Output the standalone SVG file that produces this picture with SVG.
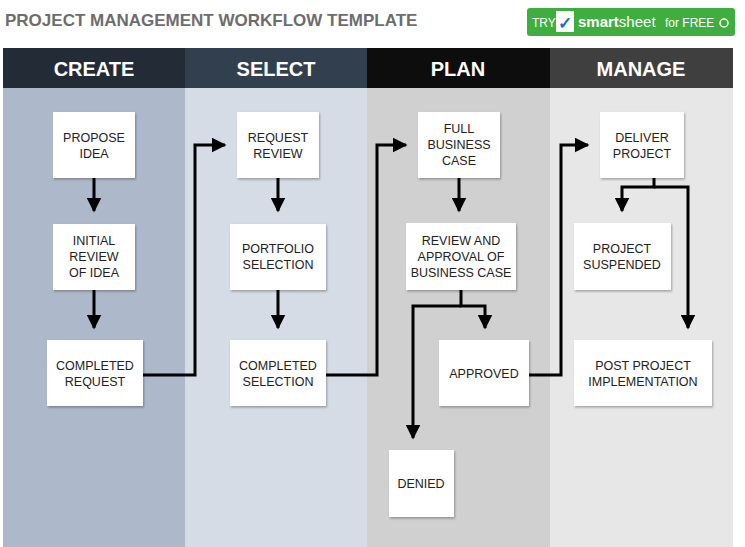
<svg xmlns="http://www.w3.org/2000/svg" width="745" height="547" viewBox="0 0 745 547">
<defs>
<marker id="ah" viewBox="0 0 10 10" refX="9" refY="5" markerWidth="5" markerHeight="5" orient="auto" markerUnits="strokeWidth"><path d="M0,0 L10,5 L0,10 z" fill="#000"/></marker>
<filter id="sh" x="-10%" y="-10%" width="130%" height="130%"><feDropShadow dx="1" dy="1.5" stdDeviation="1" flood-color="#000" flood-opacity="0.3"/></filter>
</defs>
<style>
.hd{font-family:"Liberation Sans",Arial,sans-serif;font-weight:bold;font-size:20px;fill:#fff;text-anchor:middle}
.bx{fill:#fff;filter:url(#sh)}
.t{font-family:"Liberation Sans",Arial,sans-serif;font-size:12.5px;fill:#222;text-anchor:middle}
.c{fill:none;stroke:#000;stroke-width:3}
</style>
<rect width="745" height="547" fill="#fff"/>
<text x="5" y="26" font-family="Liberation Sans,Arial,sans-serif" font-weight="bold" font-size="17" fill="#6d6d6d">PROJECT MANAGEMENT WORKFLOW TEMPLATE</text>
<g id="button">
<rect x="527" y="8" width="208" height="28" rx="3" fill="#3eae3e"/>
<text x="532" y="27" font-family="Liberation Sans,Arial,sans-serif" font-size="12" fill="#fff">TRY</text>
<rect x="556" y="11" width="18" height="21" fill="#fff"/>
<text x="558" y="29" font-family="Liberation Sans,Arial,sans-serif" font-size="17" font-weight="bold" fill="#1e6fc7">✓</text>
<text x="578" y="27" font-family="Liberation Sans,Arial,sans-serif" font-size="15" fill="#fff"><tspan font-weight="bold">smart</tspan>sheet</text>
<text x="665" y="27" font-family="Liberation Sans,Arial,sans-serif" font-size="12" fill="#fff">for FREE</text>
<circle cx="724" cy="23" r="4" fill="none" stroke="#fff" stroke-width="1.5"/>
</g>
<g id="lanes">
<rect x="3" y="48" width="182" height="40" fill="#222b36"/>
<rect x="185" y="48" width="182" height="40" fill="#323f4f"/>
<rect x="367" y="48" width="183" height="40" fill="#0d0d0d"/>
<rect x="550" y="48" width="183" height="40" fill="#3f3f3f"/>
<rect x="3" y="88" width="182" height="459" fill="#adb9ca"/>
<rect x="185" y="88" width="182" height="459" fill="#d6dce5"/>
<rect x="367" y="88" width="183" height="459" fill="#d0d0d0"/>
<rect x="550" y="88" width="183" height="459" fill="#e7e7e7"/>
<text class="hd" x="94" y="76">CREATE</text>
<text class="hd" x="276" y="76">SELECT</text>
<text class="hd" x="458" y="76">PLAN</text>
<text class="hd" x="641" y="76">MANAGE</text>
</g>
<g id="connectors">
<path class="c" d="M94,178 V211" marker-end="url(#ah)"/>
<path class="c" d="M94,290 V328" marker-end="url(#ah)"/>
<path class="c" d="M278,178 V211" marker-end="url(#ah)"/>
<path class="c" d="M278,290 V328" marker-end="url(#ah)"/>
<path class="c" d="M459,178 V211" marker-end="url(#ah)"/>
<path class="c" d="M143,375 H195 V145 H225" marker-end="url(#ah)"/>
<path class="c" d="M326,375 H377 V145 H406" marker-end="url(#ah)"/>
<path class="c" d="M529,375 H561 V145 H588" marker-end="url(#ah)"/>
<path class="c" d="M461,290 V306 H485 V328" marker-end="url(#ah)"/>
<path class="c" d="M461,306 H413 V438" marker-end="url(#ah)"/>
<path class="c" d="M654,178 V187 H622 V211" marker-end="url(#ah)"/>
<path class="c" d="M654,187 H688 V328" marker-end="url(#ah)"/>
</g>
<g id="n1"><rect class="bx" x="53" y="112" width="82" height="66"/><text class="t" x="94" y="142">PROPOSE</text><text class="t" x="94" y="158">IDEA</text></g>
<g id="n2"><rect class="bx" x="53" y="224" width="82" height="66"/><text class="t" x="94" y="245">INITIAL</text><text class="t" x="94" y="261">REVIEW</text><text class="t" x="94" y="277">OF IDEA</text></g>
<g id="n3"><rect class="bx" x="47" y="340" width="96" height="66"/><text class="t" x="95" y="370">COMPLETED</text><text class="t" x="95" y="386">REQUEST</text></g>
<g id="n4"><rect class="bx" x="237" y="112" width="82" height="66"/><text class="t" x="278" y="142">REQUEST</text><text class="t" x="278" y="158">REVIEW</text></g>
<g id="n5"><rect class="bx" x="230" y="224" width="96" height="66"/><text class="t" x="278" y="253">PORTFOLIO</text><text class="t" x="278" y="269">SELECTION</text></g>
<g id="n6"><rect class="bx" x="230" y="340" width="96" height="66"/><text class="t" x="278" y="370">COMPLETED</text><text class="t" x="278" y="386">SELECTION</text></g>
<g id="n7"><rect class="bx" x="418" y="112" width="82" height="66"/><text class="t" x="459" y="133">FULL</text><text class="t" x="459" y="149">BUSINESS</text><text class="t" x="459" y="165">CASE</text></g>
<g id="n8"><rect class="bx" x="406" y="223" width="110" height="67"/><text class="t" x="461" y="245">REVIEW AND</text><text class="t" x="461" y="261">APPROVAL OF</text><text class="t" x="461" y="277">BUSINESS CASE</text></g>
<g id="n9"><rect class="bx" x="439" y="340" width="90" height="66"/><text class="t" x="484" y="378">APPROVED</text></g>
<g id="n10"><rect class="bx" x="389" y="450" width="65" height="67"/><text class="t" x="421" y="488">DENIED</text></g>
<g id="n11"><rect class="bx" x="600" y="112" width="84" height="66"/><text class="t" x="642" y="142">DELIVER</text><text class="t" x="642" y="158">PROJECT</text></g>
<g id="n12"><rect class="bx" x="574" y="223" width="97" height="67"/><text class="t" x="622" y="253">PROJECT</text><text class="t" x="622" y="269">SUSPENDED</text></g>
<g id="n13"><rect class="bx" x="574" y="340" width="138" height="66"/><text class="t" x="643" y="370">POST PROJECT</text><text class="t" x="643" y="386">IMPLEMENTATION</text></g>
</svg>
